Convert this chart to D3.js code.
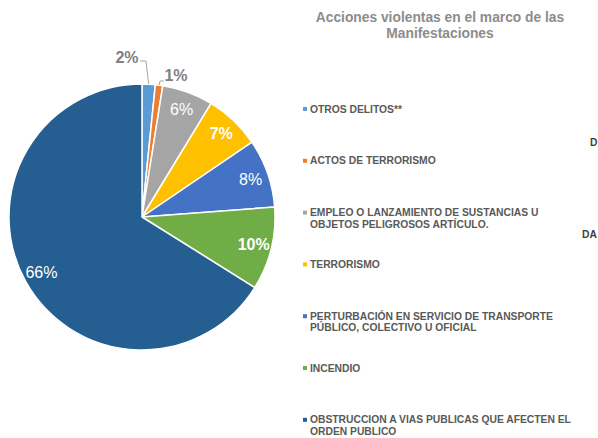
<!DOCTYPE html>
<html>
<head>
<meta charset="utf-8">
<script src="https://cdn.jsdelivr.net/npm/d3@7"></script>
<style>
  body { margin: 0; background: #fff; }
  svg { font-family: "Liberation Sans", Arial, sans-serif; }
</style>
</head>
<body>
<div id="container"></div>
<script>
/* DATA */
const categories = [
  "OTROS DELITOS**",
  "ACTOS DE TERRORISMO",
  "EMPLEO O LANZAMIENTO DE SUSTANCIAS U|OBJETOS PELIGROSOS ARTÍCULO.",
  "TERRORISMO",
  "PERTURBACIÓN EN SERVICIO DE TRANSPORTE|PÚBLICO, COLECTIVO U OFICIAL",
  "INCENDIO",
  "OBSTRUCCION A VIAS PUBLICAS QUE AFECTEN EL|ORDEN PUBLICO"
];
const values = [1.6, 0.9, 6.2, 6.8, 8.3, 10.1, 66.1];
const titleLines = ["Acciones violentas en el marco de las", "Manifestaciones"];

/* CONSTANTS AND GLOBALS */
const width = 598,
  height = 438,
  cx = 142,
  cy = 217,
  radius = 133;

const colors = ["#5B9BD5", "#ED7D31", "#A5A5A5", "#FFC000", "#4472C4", "#70AD47", "#255E91"];
// which labels Excel drew bold / outside the pie
const boldIdx = [0, 1, 3, 5];
const outsideIdx = [0, 1];

const color = d3.scaleOrdinal().domain(d3.range(categories.length)).range(colors);

const svg = d3.select("#container")
  .append("svg")
  .attr("width", width)
  .attr("height", height);

/* PIE */
const pie = d3.pie().sort(null).value(d => d)(values);
const arc = d3.arc().innerRadius(0).outerRadius(radius);
const labelArc = d3.arc().innerRadius(115).outerRadius(115);

const g = svg.append("g").attr("transform", `translate(${cx},${cy})`);

g.selectAll("path")
  .data(pie)
  .join("path")
  .attr("d", arc)
  .attr("fill", (d, i) => color(i))
  .attr("stroke", "#fff")
  .attr("stroke-width", 1.5);

// inside labels
g.selectAll("text.inside")
  .data(pie.filter((d, i) => !outsideIdx.includes(i)))
  .join("text")
  .attr("class", "inside")
  .attr("transform", d => `translate(${labelArc.centroid(d)})`)
  .attr("text-anchor", "middle")
  .attr("dy", "0.35em")
  .attr("fill", "#fff")
  .attr("font-size", 16)
  .attr("font-weight", d => boldIdx.includes(d.index) ? "bold" : "normal")
  .text(d => Math.round(d.value) + "%");

// outside labels with leader lines
const outPos = [[127, 57], [176, 75]];
outsideIdx.forEach((i, k) => {
  const d = pie[i];
  const a = (d.startAngle + d.endAngle) / 2;
  const ex = cx + Math.sin(a) * radius, ey = cy - Math.cos(a) * radius;
  const [lx, ly] = outPos[k];
  const pts = k === 0
    ? [[lx + 13, ly + 4], [lx + 19, ly + 4], [ex, ey]]
    : [[lx - 12, ly + 6], [lx - 16, ly + 6], [ex, ey]];
  svg.append("path")
    .attr("d", d3.line()(pts))
    .attr("fill", "none")
    .attr("stroke", "#A6A6A6")
    .attr("stroke-width", 1);
  svg.append("text")
    .attr("x", lx)
    .attr("y", ly)
    .attr("dy", "0.35em")
    .attr("text-anchor", "middle")
    .attr("fill", "#7F7F7F")
    .attr("font-size", 16)
    .attr("font-weight", "bold")
    .text(Math.round(d.value) + "%");
});

/* TITLE */
svg.append("text")
  .attr("x", 440)
  .attr("y", 17)
  .attr("text-anchor", "middle")
  .attr("fill", "#8C8C8C")
  .attr("font-size", 13.8)
  .attr("font-weight", "bold")
  .selectAll("tspan")
  .data(titleLines)
  .join("tspan")
  .attr("x", 440)
  .attr("dy", (d, i) => i === 0 ? "0.35em" : "1.15em")
  .text(d => d);

/* LEGEND */
const legend = svg.append("g").attr("transform", "translate(303,109)");
const item = legend.selectAll("g")
  .data(categories)
  .join("g")
  .attr("transform", (d, i) => `translate(0,${i * 51.8})`);

item.append("rect")
  .attr("x", 0)
  .attr("y", -2)
  .attr("width", 4)
  .attr("height", 4)
  .attr("fill", (d, i) => color(i));

item.append("text")
  .attr("fill", "#595959")
  .attr("font-size", 10.3)
  .attr("font-weight", "bold")
  .selectAll("tspan")
  .data(d => d.split("|"))
  .join("tspan")
  .attr("x", 7)
  .attr("y", (d, i) => i * 11.5)
  .attr("dy", "0.35em")
  .text(d => d);

// partly hidden texts at the right edge
svg.append("text").attr("x", 590).attr("y", 142).attr("dy", "0.35em")
  .attr("font-size", 10.3).attr("font-weight", "bold").attr("fill", "#404040").text("D");
svg.append("text").attr("x", 582).attr("y", 234).attr("dy", "0.35em")
  .attr("font-size", 10.3).attr("font-weight", "bold").attr("fill", "#404040").text("DA");
</script>
</body>
</html>
